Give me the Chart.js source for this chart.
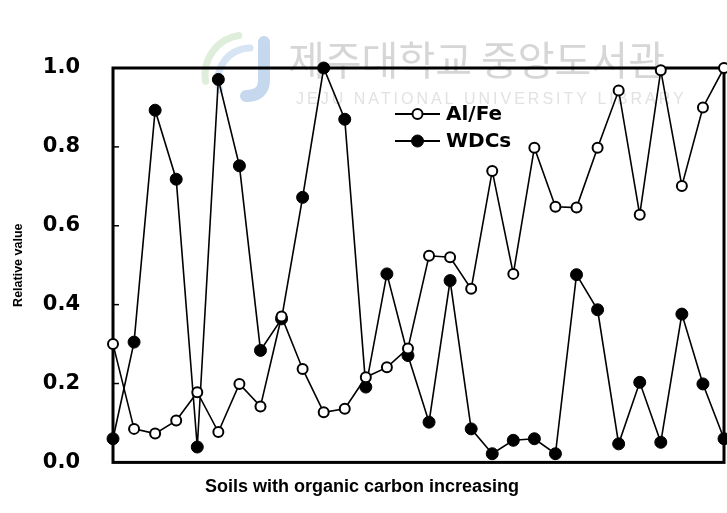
<!DOCTYPE html>
<html>
<head>
<meta charset="utf-8">
<script src="https://cdn.jsdelivr.net/npm/chart.js@4"></script>
<style>
  html, body { margin: 0; padding: 0; background: #fff; overflow: hidden; }
  #wrap { width: 727px; height: 513px; }
  canvas { display: block; }
</style>
</head>
<body>
<div id="wrap"><canvas id="grafica"></canvas></div>
<script>
// suelos ordenados por carbono orgánico creciente
const soils = ['1','2','3','4','5','6','7','8','9','10','11','12','13','14','15',
               '16','17','18','19','20','21','22','23','24','25','26','27','28','29','30'];

// valores relativos (0-1)
const alFe = [0.30, 0.085, 0.073, 0.106, 0.178, 0.077, 0.199, 0.142, 0.37, 0.237,
              0.127, 0.136, 0.216, 0.241, 0.289, 0.524, 0.520, 0.440, 0.739, 0.478,
              0.798, 0.648, 0.646, 0.798, 0.943, 0.628, 0.994, 0.701, 0.900, 1.0];
const wdcs = [0.060, 0.305, 0.893, 0.718, 0.039, 0.971, 0.752, 0.284, 0.364, 0.672,
              1.0, 0.870, 0.191, 0.478, 0.271, 0.102, 0.461, 0.085, 0.022, 0.056,
              0.060, 0.022, 0.476, 0.387, 0.047, 0.203, 0.051, 0.376, 0.199, 0.060];

const yTicks = [0, 0.2, 0.4, 0.6, 0.8, 1.0];

// marca de agua de la biblioteca (logo + texto), detrás de todo
const marcaAgua = {
    id: 'marcaAgua',
    beforeDraw(chart) {
        const ctx = chart.ctx;
        ctx.save();
        ctx.lineCap = 'round';
        // logo: trazos curvos y la J
        ctx.lineWidth = 7;
        ctx.strokeStyle = '#dfeddb';
        ctx.beginPath();
        ctx.arc(245, 75, 40, Math.PI * 0.95, Math.PI * 1.45);
        ctx.stroke();
        ctx.strokeStyle = '#d6e4f3';
        ctx.beginPath();
        ctx.arc(250, 80, 32, Math.PI * 0.9, Math.PI * 1.5);
        ctx.stroke();
        ctx.lineWidth = 12;
        ctx.strokeStyle = '#c6d8ee';
        ctx.beginPath();
        ctx.moveTo(264, 42);
        ctx.lineTo(264, 80);
        ctx.quadraticCurveTo(264, 96, 246, 96);
        ctx.stroke();
        // nombre de la biblioteca
        ctx.fillStyle = '#d6d6d6';
        ctx.textBaseline = 'middle';
        ctx.font = '40px "Noto Sans CJK KR"';
        ctx.fillText('제주대학교 중앙도서관', 288, 60);
        ctx.fillStyle = '#e2e2e2';
        ctx.font = '16px "Liberation Sans"';
        ctx.letterSpacing = '3px';
        ctx.fillText('JEJU NATIONAL UNIVERSITY LIBRARY', 296, 100);
        ctx.restore();
    }
};

// marco grueso alrededor del área y marcas hacia dentro en el eje y
const marco = {
    id: 'marco',
    beforeDatasetsDraw(chart) {
        const {ctx, chartArea: a, scales} = chart;
        ctx.save();
        ctx.strokeStyle = '#000';
        ctx.lineWidth = 3;
        ctx.strokeRect(a.left, a.top, a.right - a.left, a.bottom - a.top);
        ctx.lineWidth = 1.5;
        yTicks.slice(1, -1).forEach(v => {
            const y = scales.y.getPixelForValue(v);
            ctx.beginPath();
            ctx.moveTo(a.left, y);
            ctx.lineTo(a.left + 6, y);
            ctx.stroke();
        });
        ctx.restore();
    }
};

// leyenda dentro del gráfico, con el estilo de cada serie
const leyenda = {
    id: 'leyenda',
    afterDatasetsDraw(chart) {
        const ctx = chart.ctx;
        const x0 = 395, x1 = 440, ys = [114, 141];
        ctx.save();
        chart.data.datasets.forEach((ds, i) => {
            const y = ys[i];
            ctx.strokeStyle = '#000';
            ctx.lineWidth = 1.8;
            ctx.beginPath();
            ctx.moveTo(x0, y);
            ctx.lineTo(x1, y);
            ctx.stroke();
            ctx.beginPath();
            ctx.arc((x0 + x1) / 2, y, ds.pointRadius, 0, Math.PI * 2);
            ctx.fillStyle = ds.pointBackgroundColor;
            ctx.fill();
            ctx.lineWidth = ds.pointBorderWidth;
            ctx.stroke();
            ctx.fillStyle = '#000';
            ctx.font = 'bold 20px "DejaVu Sans"';
            ctx.textBaseline = 'middle';
            ctx.fillText(ds.label, x1 + 6, y + 1);
        });
        ctx.restore();
    }
};

const ctx = document.getElementById('grafica').getContext('2d');

new Chart(ctx, {
    type: 'line',
    data: {
        labels: soils,
        datasets: [
            {
                label: 'Al/Fe',
                data: alFe,
                borderColor: '#000',
                borderWidth: 1.6,
                pointRadius: 5,
                pointBorderWidth: 2,
                pointBackgroundColor: '#fff',
                pointBorderColor: '#000',
                tension: 0,
                clip: false
            },
            {
                label: 'WDCs',
                data: wdcs,
                borderColor: '#000',
                borderWidth: 1.6,
                pointRadius: 6,
                pointBorderWidth: 1,
                pointBackgroundColor: '#000',
                pointBorderColor: '#000',
                tension: 0,
                clip: false
            }
        ]
    },
    options: {
        responsive: true,
        maintainAspectRatio: false,
        animation: false,
        events: [],
        layout: { autoPadding: false, padding: { top: 68, right: 3, left: 0, bottom: 0 } },
        plugins: {
            legend: { display: false },
            tooltip: { enabled: false },
            title: {
                display: true,
                position: 'bottom',
                text: 'Soils with organic carbon increasing',
                color: '#000',
                font: { family: '"Liberation Sans"', size: 18, weight: 'bold', lineHeight: 1.2 },
                padding: { top: 14, bottom: 15 }
            }
        },
        scales: {
            x: {
                type: 'category',
                offset: false,
                grid: { display: false },
                border: { display: false },
                ticks: { display: false },
                afterFit(scale) { scale.height = 0; }
            },
            y: {
                min: 0,
                max: 1,
                grid: { display: false, drawTicks: false },
                border: { display: false },
                afterBuildTicks(scale) { scale.ticks = yTicks.map(v => ({ value: v })); },
                ticks: {
                    color: '#000',
                    padding: 33,
                    font: { family: '"DejaVu Sans"', size: 21, weight: 'bold' },
                    callback: v => v.toFixed(1)
                },
                title: {
                    display: true,
                    text: 'Relative value',
                    color: '#000',
                    font: { family: '"Liberation Sans"', size: 12.5, weight: 'bold', lineHeight: 1.2 },
                    padding: { top: 11, bottom: 0 }
                },
                afterFit(scale) { scale.width = 113; }
            }
        }
    },
    plugins: [marcaAgua, marco, leyenda]
});
</script>
</body>
</html>
